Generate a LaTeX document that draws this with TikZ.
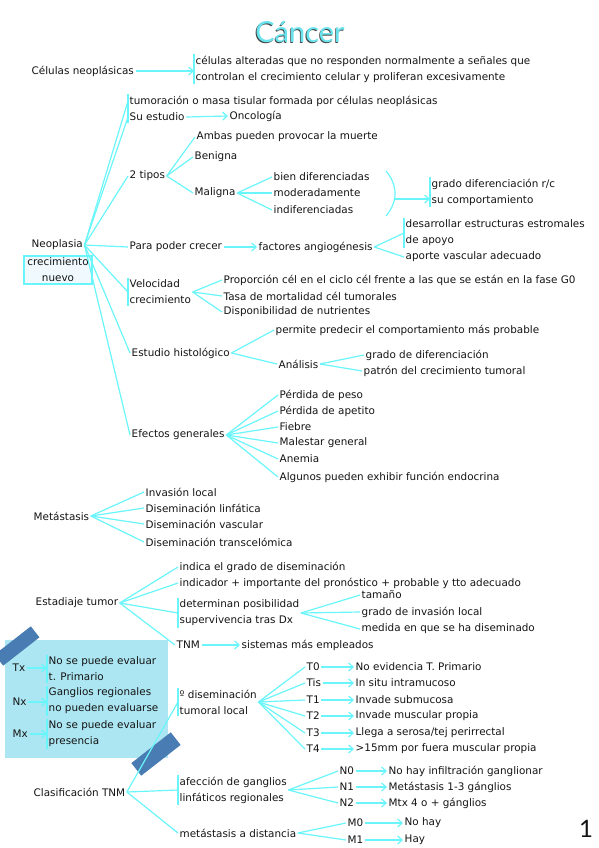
\documentclass[tikz,border=0pt]{standalone}
\usepackage{fontspec}
\setmainfont{DejaVu Sans}
\newfontfamily\titlefont{Lato}
\usetikzlibrary{positioning,arrows.meta,calc}
\definecolor{cyanline}{RGB}{105,245,250}
\definecolor{titlecyan}{RGB}{105,228,238}
\definecolor{notebox}{RGB}{172,230,242}
\definecolor{tape}{RGB}{72,124,178}
\definecolor{ink}{RGB}{20,20,20}
\newcommand{\sidebar}[1]{\draw[brk] (#1.north west) -- (#1.south west);}
\tikzset{
  txt/.style={anchor=west,inner sep=1.5pt,text=ink,font=\fontsize{10.4}{16}\selectfont},
  multi/.style={txt,align=left},
  lnk/.style={draw=cyanline,line width=1.2pt},
  arr/.style={lnk,-{Straight Barb[length=4.5pt,width=8pt]}},
  brk/.style={draw=cyanline,line width=1.3pt},
}

\begin{document}
\begin{tikzpicture}[x=1pt,y=-1pt]
\useasboundingbox (0,0) rectangle (599,848);
% Title
\node[font=\titlefont\fontsize{29}{29}\selectfont,text=ink!80] (titleback) at (299.2,32.8) {Cáncer};
\node[font=\titlefont\fontsize{29}{29}\selectfont,text=titlecyan] (title) at (300,32) {Cáncer};
% Celulas neoplasicas
\node[txt] (celulas) at (30,71) {Células neoplásicas};
\node[multi] (celdef) at (194,69) {células alteradas que no responden normalmente a señales que\\controlan el crecimiento celular y proliferan excesivamente};
\sidebar{celdef}
\draw[arr] (celulas.east) -- (celulas.east -| celdef.west);
% Neoplasia
\node[txt] (neo) at (30,245) {Neoplasia};
\node[draw=cyanline,fill=cyan!6,line width=1.2pt,align=center,inner sep=2pt,minimum width=68pt,text=ink,font=\fontsize{10.4}{16}\selectfont] (nuevo) at (58,270) {crecimiento\\nuevo};
\node[txt] (tumor) at (128,101) {tumoración o masa tisular formada por células neoplásicas};
\node[txt] (estudio) at (128,117) {Su estudio};
\draw[brk] (tumor.north west) -- (estudio.south west);
\node[txt] (onco) at (228,116) {Oncología};
\draw[arr] (estudio.east) -- (onco.west);
\node[txt] (dos) at (128,176) {2 tipos};
\node[txt] (crecer) at (128,247) {Para poder crecer};
\node[multi] (velo) at (128,292) {Velocidad\\crecimiento};
\sidebar{velo}
\node[txt] (histo) at (130,353) {Estudio histológico};
\node[txt] (efectos) at (130,435) {Efectos generales};
\foreach \n in {tumor,estudio,dos,crecer,velo,histo,efectos}
  \draw[lnk] (neo.east) -- (\n.west);
% 2 tipos
\node[txt] (ambas) at (195,137) {Ambas pueden provocar la muerte};
\node[txt] (benigna) at (193,157) {Benigna};
\node[txt] (maligna) at (193,193) {Maligna};
\foreach \n in {ambas,benigna,maligna}
  \draw[lnk] (dos.east) -- (\n.west);
\node[txt] (bien) at (272,177) {bien diferenciadas};
\node[txt] (moder) at (272,193) {moderadamente};
\node[txt] (indif) at (272,210) {indiferenciadas};
\foreach \n in {bien,moder,indif}
  \draw[lnk] (maligna.east) -- (\n.west);
\coordinate (partop) at (386,171);
\coordinate (parbot) at (386,216);
\coordinate (parmid) at (394.5,199);
\draw[lnk] (partop) .. controls (398,185) and (398,202) .. (parbot);
\node[multi] (grado) at (430,192) {grado diferenciación r/c\\su comportamiento};
\sidebar{grado}
\draw[arr] (parmid) -- (parmid -| grado.west);
% Para poder crecer
\node[txt] (factores) at (257,247) {factores angiogénesis};
\draw[arr] (crecer.east) -- (factores.west);
\node[multi] (estroma) at (404,233) {desarrollar estructuras estromales\\de apoyo};
\sidebar{estroma}
\node[txt] (aporte) at (404,257) {aporte vascular adecuado};
\draw[lnk] (factores.east) -- (estroma.west);
\draw[lnk] (factores.east) -- (aporte.west);
% Velocidad crecimiento
\foreach \y/\t [count=\i] in {280/Proporción cél en el ciclo cél frente a las que se están en la fase G0,296/Tasa de mortalidad cél tumorales,312/Disponibilidad de nutrientes} {
  \node[txt] (vel\i) at (222,\y) {\t};
  \draw[lnk] (velo.east) -- (vel\i.west);
}
% Estudio histologico
\node[txt] (permite) at (274,330) {permite predecir el comportamiento más probable};
\node[txt] (analisis) at (277,364) {Análisis};
\draw[lnk] (histo.east) -- (permite.west);
\draw[lnk] (histo.east) -- (analisis.west);
\node[txt] (gdif) at (364,355) {grado de diferenciación};
\node[txt] (patron) at (362,371) {patrón del crecimiento tumoral};
\draw[lnk] (analisis.east) -- (gdif.west);
\draw[lnk] (analisis.east) -- (patron.west);
% Efectos generales
\foreach \y/\t [count=\i] in {395/Pérdida de peso,411/Pérdida de apetito,427/Fiebre,443/Malestar general,459/Anemia,477/Algunos pueden exhibir función endocrina} {
  \node[txt] (ef\i) at (278,\y) {\t};
  \draw[lnk] (efectos.east) -- (ef\i.west);
}
% Metastasis
\node[txt] (meta) at (32,516) {Metástasis};
\foreach \y/\t [count=\i] in {492/Invasión local,508/Diseminación linfática,524/Diseminación vascular,542/Diseminación transcelómica} {
  \node[txt] (dis\i) at (144,\y) {\t};
  \draw[lnk] (meta.east) -- (dis\i.west);
}
% Estadiaje tumor
\node[txt] (estad) at (34,603) {Estadiaje tumor};
\node[txt] (indica) at (178,567) {indica el grado de diseminación};
\node[txt] (indicador) at (178,583) {indicador + importante del pronóstico + probable y tto adecuado};
\node[multi] (determ) at (178,613) {determinan posibilidad\\supervivencia tras Dx};
\sidebar{determ}
\node[txt] (tnm) at (175,645) {TNM};
\foreach \n in {indica,indicador,determ,tnm}
  \draw[lnk] (estad.east) -- (\n.west);
\foreach \y/\t [count=\i] in {595/tamaño,612/grado de invasión local,629/medida en que se ha diseminado} {
  \node[txt] (fac\i) at (360,\y) {\t};
  \draw[lnk] (determ.east) -- (fac\i.west);
}
\node[txt] (sistemas) at (240,645) {sistemas más empleados};
\draw[arr] (tnm.east) -- (sistemas.west);
% Nota X
\fill[notebox] (5,640) rectangle (168,758);
\fill[tape,rotate around={38:(17,646)}] (-6,639) rectangle (40,653);
\fill[tape,rotate around={38:(156,754)}] (131,746) rectangle (181,762);
\node[txt] (tx) at (11,668) {Tx};
\node[multi] (txdesc) at (47,669) {No se puede evaluar\\t. Primario};
\node[txt] (nx) at (11,702) {Nx};
\node[multi] (nxdesc) at (47,701) {Ganglios regionales\\no pueden evaluarse};
\node[txt] (mx) at (11,734) {Mx};
\node[multi] (mxdesc) at (47,734) {No se puede evaluar\\presencia};
\foreach \a/\b in {tx/txdesc,nx/nxdesc,mx/mxdesc} {
  \sidebar{\b}
  \draw[arr] (\a.east) -- (\a.east -| \b.west);
}
% Clasificacion TNM
\node[txt] (clasif) at (32,792) {Clasificación TNM};
\node[multi] (gdis) at (178,702) {º diseminación\\tumoral local};
\sidebar{gdis}
\node[multi] (afec) at (178,790) {afección de ganglios\\linfáticos regionales};
\sidebar{afec}
\node[txt] (mdist) at (178,833) {metástasis a distancia};
\foreach \n in {gdis,afec,mdist}
  \draw[lnk] (clasif.east) -- (\n.west);
\foreach \y/\l/\t [count=\i] in {667/T0/No evidencia T. Primario,683/Tis/In situ intramucoso,700/T1/Invade submucosa,716/T2/Invade muscular propia,733/T3/{Llega a serosa/tej perirrectal},749/T4/{>15mm por fuera muscular propia}} {
  \node[txt] (t\i) at (305,\y) {\l};
  \node[txt] (tdesc\i) at (354,\y) {\t};
  \draw[lnk] (gdis.east) -- (t\i.west);
  \draw[arr] (t\i.east) -- (tdesc\i.west);
}
\foreach \y/\l/\t [count=\i] in {771/N0/No hay infiltración ganglionar,787/N1/Metástasis 1-3 gánglios,803/N2/Mtx 4 o + gánglios} {
  \node[txt] (n\i) at (338,\y) {\l};
  \node[txt] (ndesc\i) at (387,\y) {\t};
  \draw[lnk] (afec.east) -- (n\i.west);
  \draw[arr] (n\i.east) -- (ndesc\i.west);
}
\foreach \y/\l/\t [count=\i] in {823/M0/No hay,840/M1/Hay} {
  \node[txt] (m\i) at (346,\y) {\l};
  \node[txt] (mdesc\i) at (403,\y) {\t};
  \draw[lnk] (mdist.east) -- (m\i.west);
  \draw[arr] (m\i.east) -- (mdesc\i.west);
}
% Pagina
\node[font=\titlefont\fontsize{24}{24}\selectfont,text=ink] (pagina) at (586,829) {1};
\end{tikzpicture}
\end{document}
